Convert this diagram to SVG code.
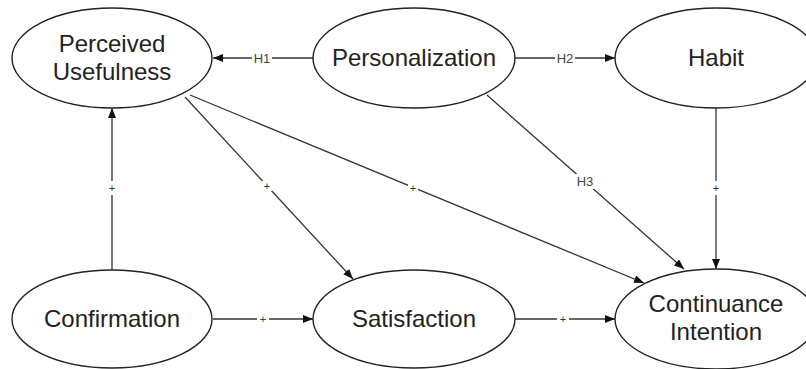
<svg xmlns="http://www.w3.org/2000/svg" width="806" height="369" viewBox="0 0 806 369">
<style>
.n ellipse{fill:#fff;stroke:#222;stroke-width:1.4}
.n text{font-family:"Liberation Sans",Arial,sans-serif;font-size:24px;fill:#222;text-anchor:middle}
.e line{stroke:#333;stroke-width:1.3;marker-end:url(#ah)}
.bg{fill:#fff}
.lb{font-family:"Liberation Sans",Arial,sans-serif;font-size:13px;fill:#444;text-anchor:middle}
.pl{font-family:"Liberation Sans",Arial,sans-serif;font-size:11px;fill:#333;text-anchor:middle}
</style>
<defs>
<marker id="ah" viewBox="0 0 10 8" refX="10" refY="4" markerWidth="10" markerHeight="8" markerUnits="userSpaceOnUse" orient="auto">
<path d="M0,0 L10,4 L0,8 Z" fill="#111"/>
</marker>
</defs>
<rect width="806" height="369" fill="#fff"/>
<g id="connectors" class="e">
<line x1="313" y1="58" x2="213" y2="58"/>
<line x1="515" y1="58" x2="615" y2="58"/>
<line x1="487" y1="95" x2="684" y2="269"/>
<line x1="185" y1="97" x2="353" y2="279"/>
<line x1="190" y1="95" x2="644" y2="283"/>
<line x1="716" y1="108" x2="716" y2="269"/>
<line x1="112" y1="270" x2="112" y2="108"/>
<line x1="213" y1="319" x2="313" y2="319"/>
<line x1="515" y1="319" x2="615" y2="319"/>
<rect class="bg" x="252" y="51" width="20" height="14"/>
<rect class="bg" x="555" y="51" width="20" height="14"/>
<rect class="bg" x="575" y="174" width="20" height="15"/>
<rect class="bg" x="262" y="181" width="10" height="10"/>
<rect class="bg" x="408" y="183" width="10" height="10"/>
<rect class="bg" x="711" y="181" width="10" height="14"/>
<rect class="bg" x="107" y="181" width="10" height="14"/>
<rect class="bg" x="257" y="315" width="12" height="8"/>
<rect class="bg" x="557" y="315" width="12" height="8"/>
<text class="lb" x="262" y="63">H1</text>
<text class="lb" x="565" y="63">H2</text>
<text class="lb" x="585" y="186">H3</text>
<text class="pl" x="267" y="190">+</text>
<text class="pl" x="413" y="192">+</text>
<text class="pl" x="716" y="192">+</text>
<text class="pl" x="112" y="192">+</text>
<text class="pl" x="263" y="323">+</text>
<text class="pl" x="563" y="323">+</text>
</g>
<g id="perceived-usefulness" class="n">
<ellipse cx="112" cy="58" rx="100" ry="50"/>
<text x="112" y="52">Perceived</text>
<text x="112" y="80">Usefulness</text>
</g>
<g id="personalization" class="n">
<ellipse cx="414" cy="58" rx="101" ry="50"/>
<text x="414" y="66">Personalization</text>
</g>
<g id="habit" class="n">
<ellipse cx="716" cy="58" rx="101" ry="50"/>
<text x="716" y="66">Habit</text>
</g>
<g id="confirmation" class="n">
<ellipse cx="112" cy="319" rx="100" ry="49"/>
<text x="112" y="327">Confirmation</text>
</g>
<g id="satisfaction" class="n">
<ellipse cx="414" cy="319" rx="101" ry="49"/>
<text x="414" y="327">Satisfaction</text>
</g>
<g id="continuance-intention" class="n">
<ellipse cx="716" cy="319" rx="101" ry="50"/>
<text x="716" y="312">Continuance</text>
<text x="716" y="340">Intention</text>
</g>
</svg>
